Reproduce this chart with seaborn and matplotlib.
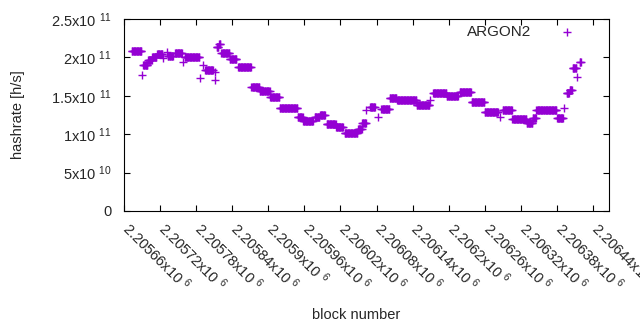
import numpy as np
import pandas as pd
import matplotlib
matplotlib.use("Agg")
import matplotlib.pyplot as plt
import matplotlib.transforms as mtransforms
import seaborn as sns

# ---- data (runs of blocks with constant hashrate) ----
seg_start = [2205673, 2205690, 2205692, 2205700, 2205707, 2205715, 2205725, 2205731,
             2205733, 2205745, 2205758, 2205761, 2205786, 2205791, 2205795, 2205811,
             2205812, 2205814, 2205818, 2205822, 2205836, 2205850, 2205872, 2205886,
             2205903, 2205919, 2205949, 2205958, 2205977, 2205986, 2205997, 2206013,
             2206027, 2206049, 2206056, 2206063, 2206069, 2206082, 2206088, 2206102,
             2206114, 2206147, 2206169, 2206174, 2206197, 2206218, 2206238, 2206260,
             2206285, 2206290, 2206306, 2206330, 2206340, 2206346, 2206380, 2206391,
             2206396, 2206401, 2206406, 2206413, 2206418]
seg_end = [2205689, 2205690, 2205699, 2205706, 2205714, 2205724, 2205725, 2205731,
           2205741, 2205756, 2205758, 2205785, 2205786, 2205791, 2205808, 2205811,
           2205812, 2205817, 2205820, 2205835, 2205847, 2205871, 2205885, 2205902,
           2205918, 2205948, 2205957, 2205974, 2205985, 2205994, 2206012, 2206024,
           2206048, 2206055, 2206062, 2206063, 2206077, 2206082, 2206101, 2206113,
           2206146, 2206168, 2206169, 2206196, 2206215, 2206237, 2206259, 2206282,
           2206285, 2206305, 2206329, 2206339, 2206345, 2206379, 2206390, 2206391,
           2206400, 2206405, 2206412, 2206413, 2206420]
seg_rate = [2.08e11, 1.77e11, 1.90e11, 1.96e11, 2.01e11, 2.04e11, 1.99e11, 2.07e11,
            2.02e11, 2.06e11, 1.94e11, 2.01e11, 1.73e11, 1.90e11, 1.84e11, 1.81e11,
            1.71e11, 2.14e11, 2.18e11, 2.06e11, 1.98e11, 1.88e11, 1.61e11, 1.56e11,
            1.49e11, 1.34e11, 1.22e11, 1.17e11, 1.22e11, 1.25e11, 1.13e11, 1.10e11,
            1.01e11, 1.07e11, 1.14e11, 1.31e11, 1.36e11, 1.23e11, 1.33e11, 1.47e11,
            1.45e11, 1.38e11, 1.44e11, 1.54e11, 1.50e11, 1.55e11, 1.42e11, 1.29e11,
            1.22e11, 1.31e11, 1.20e11, 1.15e11, 1.21e11, 1.32e11, 1.21e11, 1.34e11,
            1.54e11, 1.58e11, 1.86e11, 1.75e11, 1.94e11]

x_ticks = [2205660, 2205720, 2205780, 2205840, 2205900, 2205960, 2206020,
           2206080, 2206140, 2206200, 2206260, 2206320, 2206380, 2206440]
x_tick_labels = ["2.20566x10 $^{6}$", "2.20572x10 $^{6}$", "2.20578x10 $^{6}$",
                 "2.20584x10 $^{6}$", "2.2059x10 $^{6}$", "2.20596x10 $^{6}$",
                 "2.20602x10 $^{6}$", "2.20608x10 $^{6}$", "2.20614x10 $^{6}$",
                 "2.2062x10 $^{6}$", "2.20626x10 $^{6}$", "2.20632x10 $^{6}$",
                 "2.20638x10 $^{6}$", "2.20644x10 $^{6}$"]
y_ticks = [0, 5e10, 1e11, 1.5e11, 2e11, 2.5e11]
y_tick_labels = ["0", "5x10 $^{10}$", "1x10 $^{11}$", "1.5x10 $^{11}$",
                 "2x10 $^{11}$", "2.5x10 $^{11}$"]

# expand runs into one point per block
blocks, rates = [], []
for s, e, r in zip(seg_start, seg_end, seg_rate):
    b = np.arange(s, e + 1)
    blocks.extend(b)
    rates.extend([r] * len(b))
df = pd.DataFrame({"block": blocks, "hashrate": rates})

sns.set_theme(style="white")
plt.rcParams["font.family"] = ["Liberation Sans", "DejaVu Sans"]
plt.rcParams["mathtext.fontset"] = "custom"
plt.rcParams["mathtext.rm"] = "Liberation Sans"
plt.rcParams["mathtext.it"] = "Liberation Sans"
plt.rcParams["mathtext.default"] = "regular"

FS = 10.5
fig = plt.figure(figsize=(6.4, 3.3), dpi=100)
ax = fig.add_axes([124 / 640, 1 - 211 / 330, 485 / 640, 192 / 330])

sns.scatterplot(data=df, x="block", y="hashrate", marker="+", color="#9400D3",
                s=33, linewidth=1.0, label="ARGON2", ax=ax)

ax.set_xlim(2205660, 2206466.6)
ax.set_ylim(0, 2.5e11)
ax.set_xticks(x_ticks)
ax.set_yticks(y_ticks)
ax.set_yticklabels(y_tick_labels, fontsize=FS)
ax.tick_params(axis="both", direction="in", length=4, width=0.8, color="black",
               top=True, right=True, bottom=True, left=True)
ax.tick_params(axis="x", pad=8)
ax.tick_params(axis="y", pad=9)
ax.set_xticklabels(x_tick_labels, rotation=-45, ha="left", va="top",
                   rotation_mode="anchor", fontsize=FS)
offset = mtransforms.ScaledTranslation(8 / 100, 3 / 100, fig.dpi_scale_trans)
for lab in ax.get_xticklabels():
    lab.set_transform(lab.get_transform() + offset)

for sp in ax.spines.values():
    sp.set_color("black")
    sp.set_linewidth(0.8)

ax.set_xlabel("block number", fontsize=FS)
ax.set_ylabel("hashrate [h/s]", fontsize=FS)
ax.xaxis.set_label_coords(0.478, -0.505)
ax.yaxis.set_label_coords(-0.204, 0.5)

leg = ax.legend(loc="upper right", frameon=False, markerfirst=False, fontsize=11,
                handletextpad=1.3, borderaxespad=0.0, bbox_to_anchor=(0.957, 1.0))

fig.savefig("out.png", dpi=100)
